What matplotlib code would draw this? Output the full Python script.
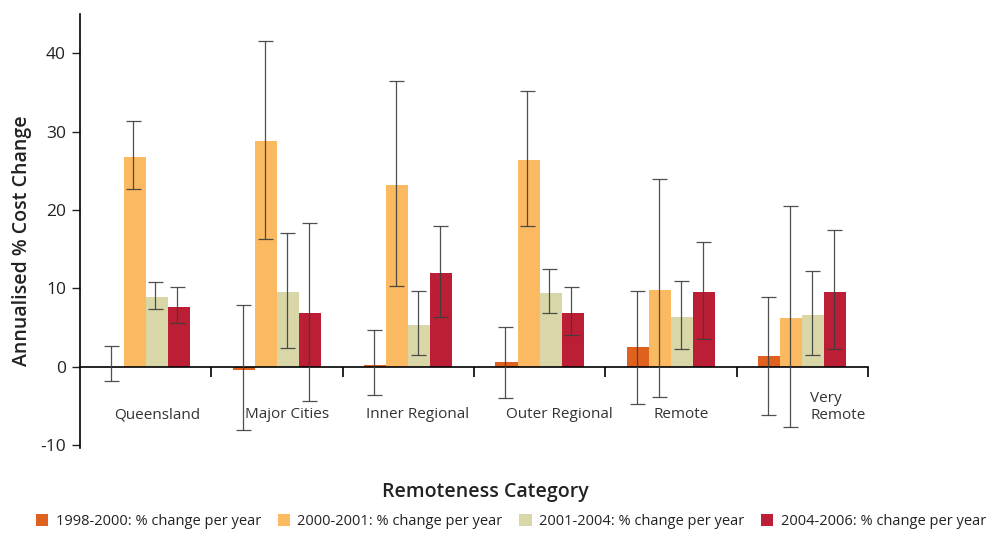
import matplotlib
matplotlib.use("Agg")
import matplotlib.pyplot as plt
import numpy as np

plt.rcParams['font.family'] = ['Open Sans', 'DejaVu Sans']

categories = ["Queensland", "Major Cities", "Inner Regional", "Outer Regional", "Remote", "Very\nRemote"]
series = ["1998-2000: % change per year", "2000-2001: % change per year",
          "2001-2004: % change per year", "2004-2006: % change per year"]
colors = ["#E0601E", "#FBB961", "#D9D7A8", "#BC1F35"]

# annualised change per period
v_1998 = [0.0, -0.35, 0.2, 0.6, 2.55, 1.4]
v_2000 = [26.8, 28.8, 23.2, 26.4, 9.8, 6.25]
v_2001 = [8.9, 9.55, 5.35, 9.4, 6.4, 6.6]
v_2004 = [7.6, 6.9, 12.0, 6.9, 9.55, 9.55]

# confidence interval bounds
lo_1998 = [-1.8, -8.0, -3.6, -4.0, -4.75, -6.1]
hi_1998 = [2.7, 7.9, 4.75, 5.05, 9.7, 8.9]
lo_2000 = [22.7, 16.3, 10.3, 18.0, -3.9, -7.7]
hi_2000 = [31.3, 41.6, 36.5, 35.2, 23.9, 20.5]
lo_2001 = [7.4, 2.45, 1.5, 6.8, 2.25, 1.5]
hi_2001 = [10.8, 17.1, 9.7, 12.5, 11.0, 12.2]
lo_2004 = [5.55, -4.4, 6.3, 4.0, 3.6, 2.25]
hi_2004 = [10.15, 18.4, 18.0, 10.2, 15.9, 17.4]

values = [v_1998, v_2000, v_2001, v_2004]
lows = [lo_1998, lo_2000, lo_2001, lo_2004]
highs = [hi_1998, hi_2000, hi_2001, hi_2004]

fig = plt.figure(figsize=(9.87, 5.36), dpi=100)
ax = fig.add_axes([0.081, 0.165, 0.7984, 0.809])

x = np.arange(len(categories))
w = 0.168
handles = []
for i, (vals, lo, hi, col) in enumerate(zip(values, lows, highs, colors)):
    vals = np.array(vals)
    pos = x + (i - 1.5) * w
    b = ax.bar(pos, vals, width=w, color=col, linewidth=0, zorder=2, label=series[i])
    handles.append(b)
    yerr = np.vstack([vals - np.array(lo), np.array(hi) - vals])
    ax.errorbar(pos - 0.01, vals, yerr=yerr, fmt='none', ecolor='#3d3d3d',
                elinewidth=0.9, capsize=5.4, capthick=0.9, zorder=3, alpha=0.9)

ax.set_xlim(-0.5, 5.5)
ax.set_ylim(-10.3, 45)
ax.set_yticks([-10, 0, 10, 20, 30, 40])
ax.set_yticklabels(["-10", "0", "10", "20", "30", "40"])
ax.tick_params(axis='y', direction='out', length=6, width=1, labelsize=12.5,
               colors='#222222', pad=4)

ax.spines['top'].set_visible(False)
ax.spines['right'].set_visible(False)
ax.spines['bottom'].set_position(('data', 0))
ax.spines['bottom'].set_linewidth(1.2)
ax.spines['left'].set_linewidth(1.2)
ax.set_xticks(np.arange(0.5, 6.0, 1.0))
ax.set_xticklabels([])
ax.tick_params(axis='x', direction='out', length=7, width=1.2)

# category labels under the zero line
label_shift = [0.09, 0.08, 0.07, 0.15, 0.08, 0.06]
for i, (cat, dx) in enumerate(zip(categories, label_shift)):
    if "\n" in cat:
        ax.text(x[i] + dx, -3.1, cat, ha='left', va='top', fontsize=11,
                color='#333333', linespacing=1.15)
    else:
        ax.text(x[i] + dx, -6.1, cat, ha='center', va='center', fontsize=11,
                color='#333333')

ax.set_ylabel("Annualised % Cost Change", fontsize=14, fontweight='semibold',
              color='#222222')
ax.yaxis.set_label_coords(-0.061, 0.476)
fig.text(0.492, 0.083, "Remoteness Category", ha='center', va='center',
         fontsize=14, fontweight='semibold', color='#222222')

fig.legend(handles=handles, labels=series, loc='lower center', ncol=4,
           bbox_to_anchor=(0.5176, -0.012), frameon=False, fontsize=10.5,
           handlelength=0.85, handleheight=0.85, handletextpad=0.5,
           columnspacing=1.15, labelcolor='#222222')

fig.savefig("out.png", dpi=100)
